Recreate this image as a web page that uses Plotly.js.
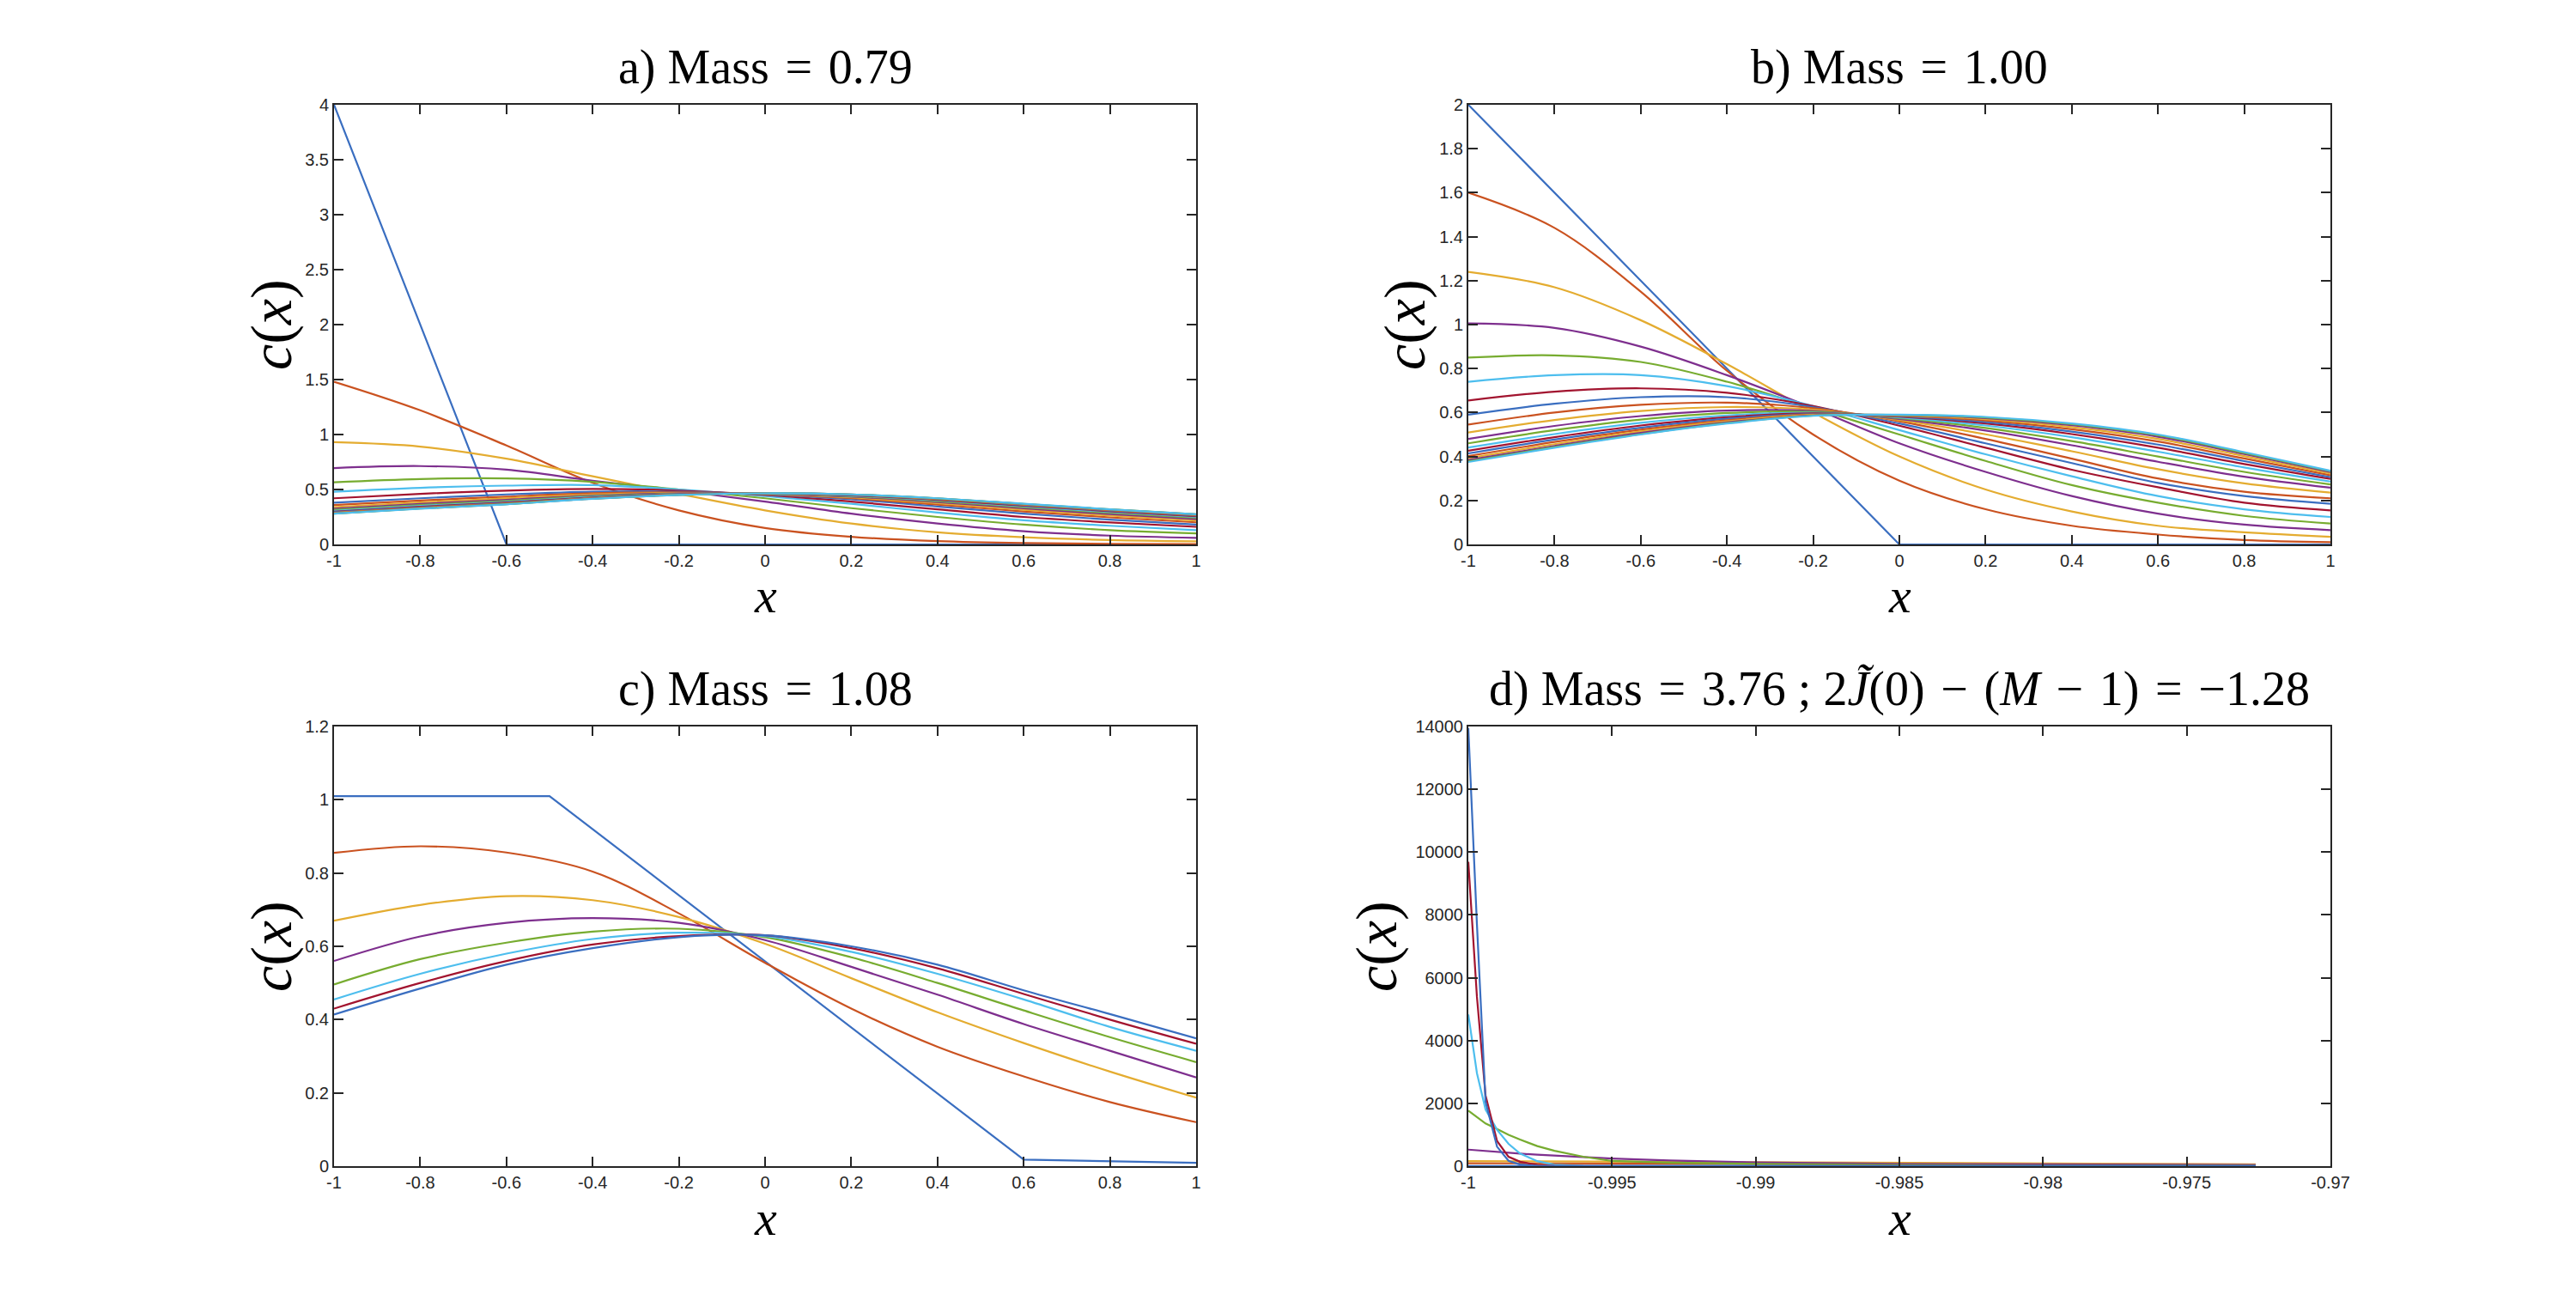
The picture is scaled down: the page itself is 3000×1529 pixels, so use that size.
<!DOCTYPE html>
<html>
<head>
<meta charset="utf-8">
<script src="https://cdn.plot.ly/plotly-3.0.1.min.js"></script>
<style>html,body{margin:0;padding:0;background:#fff;}#chart{width:3000px;height:1529px;}</style>
</head>
<body>
<div id="chart"></div>
<script>
// ---------- tick labels ----------
const xTickVals = [-1,-0.8,-0.6,-0.4,-0.2,0,0.2,0.4,0.6,0.8,1];
const xTickText = ['-1','-0.8','-0.6','-0.4','-0.2','0','0.2','0.4','0.6','0.8','1'];
const aYTickVals = [0,0.5,1,1.5,2,2.5,3,3.5,4];
const aYTickText = ['0','0.5','1','1.5','2','2.5','3','3.5','4'];
const bYTickVals = [0,0.2,0.4,0.6,0.8,1,1.2,1.4,1.6,1.8,2];
const bYTickText = ['0','0.2','0.4','0.6','0.8','1','1.2','1.4','1.6','1.8','2'];
const cYTickVals = [0,0.2,0.4,0.6,0.8,1,1.2];
const cYTickText = ['0','0.2','0.4','0.6','0.8','1','1.2'];
const dXTickVals = [-1,-0.995,-0.99,-0.985,-0.98,-0.975,-0.97];
const dXTickText = ['-1','-0.995','-0.99','-0.985','-0.98','-0.975','-0.97'];
const dYTickVals = [0,2000,4000,6000,8000,10000,12000,14000];
const dYTickText = ['0','2000','4000','6000','8000','10000','12000','14000'];

// ---------- titles ----------
const SP = '\u2004';
const titleA = 'a) Mass' + SP + '=' + SP + '0.79';
const titleB = 'b) Mass' + SP + '=' + SP + '1.00';
const titleC = 'c) Mass' + SP + '=' + SP + '1.08';
const titleD = 'd) Mass' + SP + '=' + SP + '3.76 ; 2<i>J\u0303</i>(0)' + SP + '\u2212' + SP + '(<i>M</i>' + SP + '\u2212' + SP + '1)' + SP + '=' + SP + '\u22121.28';

// ---------- panel a data ----------
const aX = [-1,-0.8,-0.6,-0.4,-0.2,0,0.2,0.4,0.6,0.8,1];
const aFirstX = [-1,-0.6,1];
const aFirstY = [4,0,0];
const aCurves = [
  [1.48,1.22,0.90,0.56,0.31,0.15,0.07,0.03,0.012,0.005,0.003],
  [0.93,0.89,0.78,0.62,0.46,0.31,0.19,0.11,0.065,0.04,0.028],
  [0.695,0.713,0.68,0.58,0.49,0.39,0.28,0.19,0.12,0.08,0.06],
  [0.565,0.595,0.60,0.57,0.50,0.42,0.33,0.25,0.18,0.13,0.10],
  [0.48,0.515,0.535,0.54,0.50,0.44,0.37,0.29,0.22,0.17,0.13],
  [0.42,0.46,0.49,0.505,0.49,0.45,0.39,0.32,0.25,0.20,0.16],
  [0.38,0.42,0.455,0.48,0.48,0.455,0.41,0.345,0.28,0.225,0.18],
  [0.358,0.399,0.435,0.466,0.473,0.457,0.420,0.362,0.300,0.246,0.201],
  [0.340,0.382,0.419,0.454,0.468,0.459,0.428,0.375,0.316,0.263,0.218],
  [0.326,0.369,0.406,0.445,0.464,0.460,0.434,0.386,0.329,0.276,0.231],
  [0.315,0.358,0.396,0.438,0.460,0.461,0.439,0.394,0.339,0.287,0.242],
  [0.306,0.350,0.388,0.432,0.458,0.462,0.443,0.401,0.347,0.295,0.250],
  [0.299,0.343,0.382,0.427,0.456,0.463,0.446,0.406,0.353,0.302,0.257],
  [0.294,0.338,0.377,0.424,0.454,0.464,0.449,0.410,0.358,0.307,0.262],
  [0.289,0.334,0.373,0.421,0.453,0.464,0.451,0.413,0.362,0.311,0.266],
  [0.286,0.330,0.370,0.419,0.452,0.465,0.453,0.416,0.365,0.315,0.270],
  [0.283,0.328,0.368,0.417,0.451,0.465,0.454,0.418,0.367,0.317,0.272],
  [0.281,0.326,0.366,0.416,0.450,0.465,0.455,0.419,0.369,0.319,0.274],
  [0.280,0.325,0.365,0.415,0.450,0.465,0.455,0.420,0.370,0.320,0.275]
];

// ---------- panel b data ----------
const bX = [-1,-0.8,-0.6,-0.4,-0.2,0,0.2,0.4,0.6,0.8,1];
const bFirstX = [-1,0,1];
const bFirstY = [2,0,0];
const bCurves = [
  [1.60,1.44,1.15,0.79,0.50,0.29,0.16,0.085,0.045,0.02,0.01],
  [1.24,1.17,1.02,0.82,0.60,0.40,0.25,0.15,0.085,0.055,0.035],
  [1.005,0.985,0.90,0.77,0.62,0.46,0.33,0.22,0.14,0.09,0.065],
  [0.85,0.86,0.83,0.74,0.62,0.50,0.38,0.27,0.19,0.13,0.095],
  [0.74,0.77,0.77,0.72,0.63,0.52,0.41,0.31,0.22,0.16,0.125],
  [0.655,0.695,0.71,0.69,0.63,0.54,0.44,0.34,0.26,0.19,0.155],
  [0.59,0.64,0.67,0.67,0.625,0.55,0.46,0.37,0.28,0.22,0.185],
  [0.545,0.60,0.635,0.645,0.62,0.56,0.48,0.39,0.30,0.24,0.21],
  [0.509,0.566,0.607,0.625,0.613,0.566,0.501,0.424,0.342,0.278,0.236],
  [0.480,0.539,0.584,0.609,0.607,0.571,0.518,0.451,0.376,0.308,0.258],
  [0.460,0.520,0.568,0.598,0.603,0.575,0.530,0.470,0.400,0.330,0.273],
  [0.441,0.502,0.553,0.587,0.599,0.578,0.541,0.488,0.422,0.350,0.286],
  [0.426,0.488,0.541,0.579,0.596,0.581,0.550,0.502,0.440,0.366,0.298],
  [0.414,0.477,0.531,0.572,0.593,0.583,0.557,0.513,0.454,0.379,0.306],
  [0.402,0.466,0.522,0.565,0.591,0.585,0.564,0.524,0.468,0.391,0.315],
  [0.392,0.456,0.514,0.560,0.589,0.587,0.570,0.534,0.480,0.402,0.323],
  [0.384,0.448,0.507,0.555,0.587,0.589,0.575,0.542,0.490,0.411,0.329],
  [0.378,0.443,0.502,0.552,0.586,0.589,0.578,0.547,0.496,0.416,0.333],
  [0.375,0.440,0.500,0.550,0.585,0.590,0.580,0.550,0.500,0.420,0.335]
];

// ---------- panel c data ----------
const cX = [-1,-0.8,-0.6,-0.4,-0.2,0,0.2,0.4,0.6,0.8,1];
const cFirstX = [-1,-0.5,0.6,1];
const cFirstY = [1.01,1.01,0.018,0.009];
const cCurves = [
  [0.855,0.873,0.856,0.804,0.69,0.555,0.43,0.326,0.245,0.175,0.12],
  [0.67,0.713,0.737,0.726,0.68,0.607,0.513,0.42,0.336,0.258,0.187],
  [0.56,0.627,0.664,0.677,0.664,0.617,0.544,0.468,0.388,0.315,0.242],
  [0.496,0.565,0.61,0.64,0.648,0.625,0.57,0.50,0.425,0.352,0.284],
  [0.455,0.525,0.58,0.62,0.637,0.628,0.585,0.525,0.455,0.38,0.315],
  [0.43,0.50,0.56,0.605,0.628,0.63,0.595,0.54,0.47,0.40,0.334],
  [0.414,0.485,0.55,0.595,0.625,0.63,0.60,0.55,0.48,0.415,0.349]
];

// ---------- panel d data ----------
const dX = [-1,-0.9997,-0.9994,-0.999,-0.9986,-0.9982,-0.9976,-0.997,-0.996,-0.995,-0.993,-0.99,-0.985,-0.98,-0.9726];
const dCurves = [
  [5,5,5,5,5,5,5,5,5,5,5,5,5,5,5],
  [92,92,92,91,91,91,90,90,89,88,85,80,72,64,55],
  [158,158,157,157,156,156,155,153,150,146,138,125,100,80,58],
  [527,503,480,451,424,398,363,330,282,240,180,120,73,50,36],
  [1770,1560,1360,1180,1000,845,640,490,300,165,115,73,35,20,12],
  [4830,2960,1800,1160,710,400,160,45,10,5,4,3,2,2,2],
  [9690,5390,2250,800,300,140,40,10,3,3,3,2,2,2,2],
  [13950,7700,2050,620,170,50,10,3,2,2,2,2,2,2,2]
];

// ---------- styling ----------
const colors = ['#3A6EC0','#CA5220','#E4AC30','#7E2F8E','#77AC30','#4DBEEE','#A2142F'];
const W = 3000, H = 1529;
const px = v => v / W;
const py = v => 1 - v / H;

const traces = [];
function addPanel(firstX, firstY, x, rows, xa, ya, shape) {
  if (firstX) {
    traces.push({x: firstX, y: firstY, xaxis: xa, yaxis: ya, mode: 'lines',
      line: {color: colors[0], width: 2.2, shape: 'linear'}, hoverinfo: 'skip'});
  }
  rows.forEach((r, i) => {
    const ci = (firstX ? i + 1 : i) % 7;
    traces.push({x: x, y: r, xaxis: xa, yaxis: ya, mode: 'lines',
      line: {color: colors[ci], width: 2.2, shape: shape, smoothing: 1}, hoverinfo: 'skip'});
  });
}
addPanel(aFirstX, aFirstY, aX, aCurves, 'x', 'y', 'spline');
addPanel(bFirstX, bFirstY, bX, bCurves, 'x2', 'y2', 'spline');
addPanel(cFirstX, cFirstY, cX, cCurves, 'x3', 'y3', 'spline');
addPanel(null, null, dX, dCurves, 'x4', 'y4', 'linear');

const tickFont = {family: 'Liberation Sans, Arial, sans-serif', size: 20, color: '#262626'};
function axis(domain, range, tv, tt, anchor) {
  return {domain: domain, range: range, anchor: anchor, tickvals: tv, ticktext: tt,
    showline: true, mirror: 'ticks', linecolor: '#262626', linewidth: 2,
    ticks: 'inside', ticklen: 11, tickwidth: 2, tickcolor: '#262626',
    showgrid: false, zeroline: false, tickfont: tickFont, fixedrange: true};
}
const leftDom = [px(389), px(1393)];
const rightDom = [px(1710), px(2714)];
const topDom = [py(634), py(122)];
const botDom = [py(1358), py(846)];

const titleFont = {family: 'Liberation Serif, DejaVu Serif, serif', size: 56, color: '#000'};
const yLabelFont = {family: 'Liberation Serif, DejaVu Serif, serif', size: 68, color: '#000'};
const xLabelFont = {family: 'Liberation Serif, DejaVu Serif, serif', size: 58, color: '#000'};
function ann(text, x, y, font, angle) {
  return {text: text, x: px(x), y: py(y), xref: 'paper', yref: 'paper', showarrow: false,
    xanchor: 'center', yanchor: 'middle', font: font, textangle: angle || 0};
}
const yLab = '<i>c</i>(<i>x</i>)';
const xLab = '<i>x</i>';

const layout = {
  width: W, height: H, margin: {l: 0, r: 0, t: 0, b: 0},
  paper_bgcolor: '#fff', plot_bgcolor: '#fff', showlegend: false,
  xaxis: axis(leftDom, [-1, 1], xTickVals, xTickText, 'y'),
  yaxis: axis(topDom, [0, 4], aYTickVals, aYTickText, 'x'),
  xaxis2: axis(rightDom, [-1, 1], xTickVals, xTickText, 'y2'),
  yaxis2: axis(topDom, [0, 2], bYTickVals, bYTickText, 'x2'),
  xaxis3: axis(leftDom, [-1, 1], xTickVals, xTickText, 'y3'),
  yaxis3: axis(botDom, [0, 1.2], cYTickVals, cYTickText, 'x3'),
  xaxis4: axis(rightDom, [-1, -0.97], dXTickVals, dXTickText, 'y4'),
  yaxis4: axis(botDom, [0, 14000], dYTickVals, dYTickText, 'x4'),
  annotations: [
    ann(titleA, 891, 78, titleFont), ann(titleB, 2212, 78, titleFont),
    ann(titleC, 891, 802, titleFont), ann(titleD, 2212, 802, titleFont),
    ann(xLab, 891, 694, xLabelFont), ann(xLab, 2212, 694, xLabelFont),
    ann(xLab, 891, 1418, xLabelFont), ann(xLab, 2212, 1418, xLabelFont),
    ann(yLab, 316, 378, yLabelFont, -90), ann(yLab, 1636, 378, yLabelFont, -90),
    ann(yLab, 316, 1102, yLabelFont, -90), ann(yLab, 1603, 1102, yLabelFont, -90)
  ]
};
Plotly.newPlot('chart', traces, layout, {displayModeBar: false, staticPlot: true});
</script>
</body>
</html>
